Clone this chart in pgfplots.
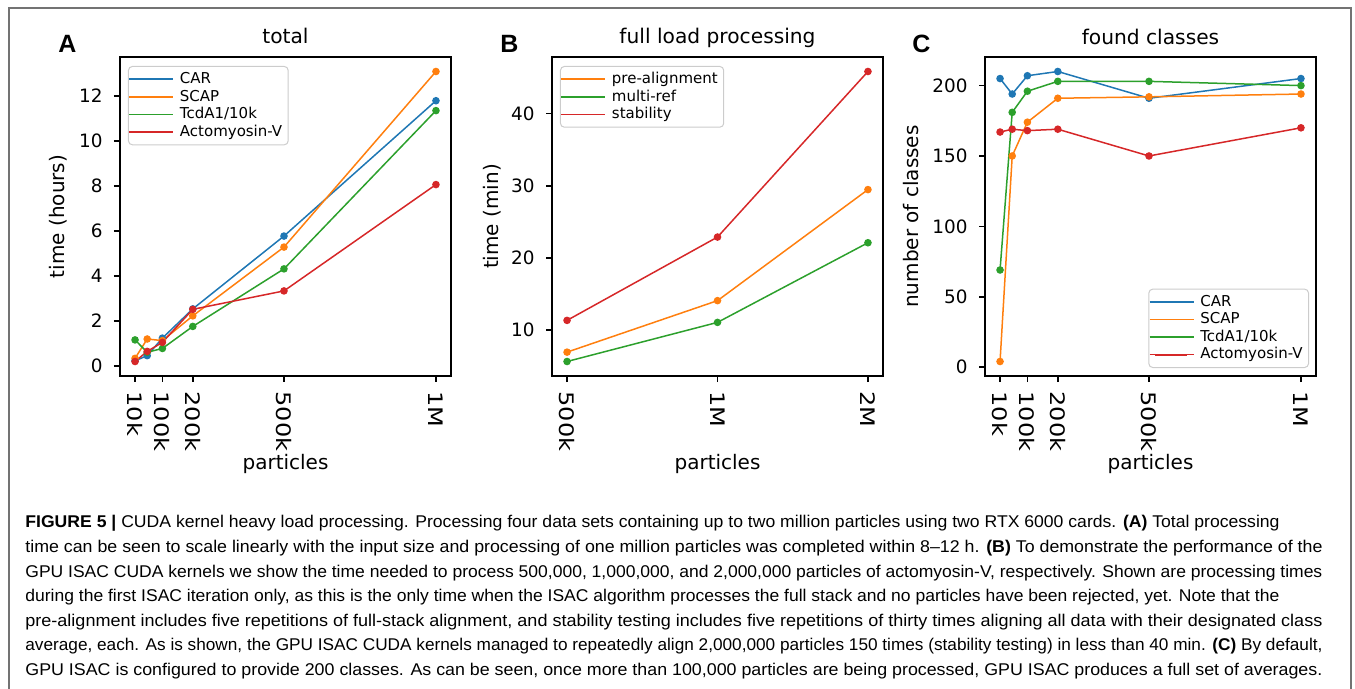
\documentclass[border=0pt]{standalone}
\usepackage{fontspec}
\setmainfont{DejaVu Sans}
\newfontfamily\capfont{Liberation Sans}
\usepackage{graphicx}
\usepackage{pgfplots}
\pgfplotsset{compat=1.18}
\definecolor{tabblue}{HTML}{1F77B4}
\definecolor{taborange}{HTML}{FF7F0E}
\definecolor{tabgreen}{HTML}{2CA02C}
\definecolor{tabred}{HTML}{D62728}
\newcommand\fs[2]{\fontsize{#1}{#2}\selectfont}
\pgfplotsset{
  panel/.style={
    width=165.5pt, height=159.5pt, scale only axis,
    anchor=south west,
    axis line style={line width=1pt},
    tick align=outside, major tick length=3pt,
    major tick style={line width=0.8pt, black},
    xtick pos=lower, ytick pos=left,
    title style={at={(0.5,1)}, anchor=base, yshift=0.5pt, font=\fs{10.1}{12}},
    xlabel style={at={(axis description cs:0.5,-0.276)}, anchor=center, font=\fs{10}{12}},
    ylabel style={anchor=center, font=\fs{10}{12}},
    yticklabel style={font=\fs{9.2}{11}, inner sep=0pt, /pgf/number format/assume math mode=true},
    xticklabel style={font=\fs{10}{12}, inner sep=0pt, rotate=-90, xscale=1.2, anchor=west},
    yticklabel shift=5.5pt,
    xticklabel shift=4.5pt,
    every axis plot/.append style={line width=0.75pt, mark=*, mark size=1.5pt, mark options={solid}},
    legend image code/.code={\path (0pt,0pt) -- (22pt,0pt);\draw[#1,line width=0.8pt] (2.5pt,0pt) -- (18.5pt,0pt);},
    legend cell align=left,
    legend style={draw=black!20, rounded corners=2pt, fill=white, fill opacity=0.8, text opacity=1,
      font=\fs{7.5}{9}, inner xsep=0pt, inner ysep=2pt, row sep=0pt, line width=0.5pt,
      nodes={inner xsep=3pt, inner ysep=0.5pt, text height=6pt, text depth=1.8pt}},
  }
}
\begin{document}
\begin{tikzpicture}
\path[use as bounding box] (0pt,0pt) rectangle (677.5pt,-344.5pt);
\draw[black!55, line width=0.7pt] (4.5pt,-344.5pt) -- (4.5pt,-4pt) -- (675.5pt,-4pt) -- (675.5pt,-344.5pt);

% Panel A
\begin{axis}[panel, at={(60pt,-188pt)},
  xmin=-39.5, xmax=1049.5, ymin=-0.455, ymax=13.735,
  xtick={10,100,200,500,1000}, xticklabels={10k,100k,200k,500k,1M},
  ytick={0,2,4,6,8,10,12},
  title={total}, xlabel={particles}, ylabel={time (hours)},
  ylabel style={at={(axis description cs:-0.187,0.5)}},
  legend style={at={(0.024,0.972)}, anchor=north west}]
\addplot[tabblue] coordinates {(10,0.22)(50,0.45)(100,1.23)(200,2.53)(500,5.77)(1000,11.79)};
\addlegendentry{CAR}
\addplot[taborange] coordinates {(10,0.33)(50,1.19)(100,1.12)(200,2.22)(500,5.28)(1000,13.09)};
\addlegendentry{SCAP}
\addplot[tabgreen] coordinates {(10,1.15)(50,0.60)(100,0.77)(200,1.75)(500,4.31)(1000,11.35)};
\addlegendentry{TcdA1/10k}
\addplot[tabred] coordinates {(10,0.19)(50,0.64)(100,1.04)(200,2.51)(500,3.33)(1000,8.06)};
\addlegendentry{Actomyosin-V}
\end{axis}

% Panel B
\begin{axis}[panel, at={(276pt,-188pt)},
  xmin=-0.1, xmax=2.1, ymin=3.576, ymax=47.874,
  xtick={0,1,2}, xticklabels={500k,1M,2M},
  ytick={10,20,30,40},
  title={full load processing}, xlabel={particles}, ylabel={time (min)},
  ylabel style={at={(axis description cs:-0.181,0.5)}},
  legend style={at={(0.024,0.972)}, anchor=north west}]
\addplot[taborange] coordinates {(0,6.89)(1,14.04)(2,29.46)};
\addlegendentry{pre-alignment}
\addplot[tabgreen] coordinates {(0,5.59)(1,11.02)(2,22.08)};
\addlegendentry{multi-ref}
\addplot[tabred] coordinates {(0,11.30)(1,22.87)(2,45.86)};
\addlegendentry{stability}
\end{axis}

% Panel C
\begin{axis}[panel, at={(492.5pt,-188pt)},
  xmin=-39.5, xmax=1049.5, ymin=-6.3, ymax=220.3,
  xtick={10,100,200,500,1000}, xticklabels={10k,100k,200k,500k,1M},
  ytick={0,50,100,150,200},
  title={found classes}, xlabel={particles}, ylabel={number of classes},
  ylabel style={at={(axis description cs:-0.224,0.5)}},
  legend style={at={(0.979,0.025)}, anchor=south east}]
\addplot[tabblue] coordinates {(10,205)(50,194)(100,207)(200,210)(500,191)(1000,205)};
\addlegendentry{CAR}
\addplot[taborange] coordinates {(10,4)(50,150)(100,174)(200,191)(500,192)(1000,194)};
\addlegendentry{SCAP}
\addplot[tabgreen] coordinates {(10,69)(50,181)(100,196)(200,203)(500,203)(1000,200)};
\addlegendentry{TcdA1/10k}
\addplot[tabred] coordinates {(10,167)(50,169)(100,168)(200,169)(500,150)(1000,170)};
\addlegendentry{Actomyosin-V}
\end{axis}

% panel letters
\node[anchor=base west, inner sep=0pt, font=\capfont\bfseries\fs{12.5}{14}] at (29pt,-26.5pt) {A};
\node[anchor=base west, inner sep=0pt, font=\capfont\bfseries\fs{12.5}{14}] at (250pt,-26.5pt) {B};
\node[anchor=base west, inner sep=0pt, font=\capfont\bfseries\fs{12.5}{14}] at (456pt,-26.5pt) {C};

% caption
\begin{scope}[every node/.style={anchor=base west, inner sep=0pt, font=\capfont\fs{8.5}{10}}]
\node at (12.5pt,-264pt) {\resizebox{627pt}{\height}{\textbf{FIGURE 5 |} CUDA kernel heavy load processing. Processing four data sets containing up to two million particles using two RTX 6000 cards. \textbf{(A)} Total processing}};
\node at (12.5pt,-276.25pt) {\resizebox{648.5pt}{\height}{time can be seen to scale linearly with the input size and processing of one million particles was completed within 8–12 h. \textbf{(B)} To demonstrate the performance of the}};
\node at (12.5pt,-288.5pt) {\resizebox{648.5pt}{\height}{GPU ISAC CUDA kernels we show the time needed to process 500,000, 1,000,000, and 2,000,000 particles of actomyosin-V, respectively. Shown are processing times}};
\node at (12.5pt,-300.75pt) {\resizebox{627pt}{\height}{during the first ISAC iteration only, as this is the only time when the ISAC algorithm processes the full stack and no particles have been rejected, yet. Note that the}};
\node at (12.5pt,-313pt) {\resizebox{648.5pt}{\height}{pre-alignment includes five repetitions of full-stack alignment, and stability testing includes five repetitions of thirty times aligning all data with their designated class}};
\node at (12.5pt,-325.25pt) {\resizebox{648.5pt}{\height}{average, each. As is shown, the GPU ISAC CUDA kernels managed to repeatedly align 2,000,000 particles 150 times (stability testing) in less than 40 min. \textbf{(C)} By default,}};
\node at (12.5pt,-337.5pt) {\resizebox{648.5pt}{\height}{GPU ISAC is configured to provide 200 classes. As can be seen, once more than 100,000 particles are being processed, GPU ISAC produces a full set of averages.}};
\end{scope}
\end{tikzpicture}
\end{document}
